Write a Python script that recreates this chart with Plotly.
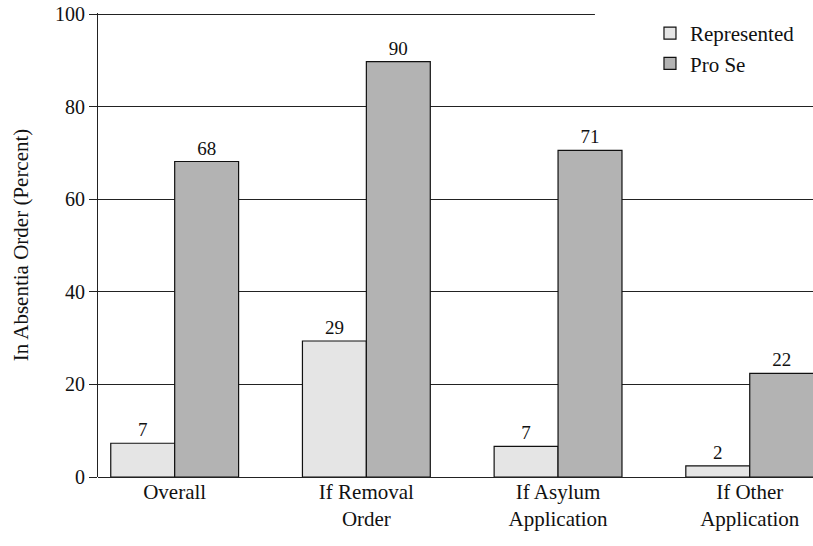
import plotly.graph_objects as go

categories = ["Overall", "If Removal<br>Order", "If Asylum<br>Application", "If Other<br>Application"]
represented = [7.3, 29.4, 6.6, 2.4]
pro_se = [68.2, 89.8, 70.6, 22.4]
y_ticks = [0, 20, 40, 60, 80, 100]

FONT = "Liberation Serif"
FS = 20

fig = go.Figure()
fig.add_trace(go.Bar(
    name="Represented", x=categories, y=represented,
    marker=dict(color="#e5e5e5", line=dict(color="#111111", width=1.2)),
    text=[f"{round(v)}" for v in represented], textposition="outside",
    textfont=dict(family=FONT, size=19, color="#111"), cliponaxis=False,
))
fig.add_trace(go.Bar(
    name="Pro Se", x=categories, y=pro_se,
    marker=dict(color="#b3b3b3", line=dict(color="#111111", width=1.2)),
    text=[f"{round(v)}" for v in pro_se], textposition="outside",
    textfont=dict(family=FONT, size=19, color="#111"), cliponaxis=False,
))

# white backdrop behind the legend (hides the top gridline there)
fig.add_shape(type="rect", xref="paper", yref="paper",
              x0=0.695, x1=1.0, y0=0.85, y1=1.02,
              fillcolor="white", line=dict(width=0), layer="above")

fig.update_layout(
    width=813, height=546,
    margin=dict(l=98, r=0, t=13, b=69, autoexpand=False),
    paper_bgcolor="white", plot_bgcolor="white",
    font=dict(family=FONT, size=FS, color="#111"),
    barmode="group", bargap=0.333, bargroupgap=0,
    hovermode=False,
    showlegend=True,
    legend=dict(x=0.772, y=1.0, xanchor="left", yanchor="top",
                bgcolor="rgba(0,0,0,0)", borderwidth=0,
                font=dict(family=FONT, size=21, color="#111"),
                tracegroupgap=0),
    xaxis=dict(range=[-0.4, 3.33], showgrid=False, ticks="",
               showline=False, tickfont=dict(size=21), automargin=False),
    yaxis=dict(range=[0, 100.3], tickvals=y_ticks, showgrid=True,
               gridcolor="#222222", gridwidth=1, zeroline=True,
               zerolinecolor="#222222", zerolinewidth=1,
               showline=True, linecolor="#222222", linewidth=1,
               ticks="outside", ticklen=8, tickcolor="#222222",
               tickfont=dict(size=FS), ticklabeloverflow="allow",
               automargin=False,
               title=dict(text="In Absentia Order (Percent)", standoff=20,
                          font=dict(size=21))),
)

fig.write_html("out.html", config={"displayModeBar": False},
               post_script="document.body.style.margin='0';")
